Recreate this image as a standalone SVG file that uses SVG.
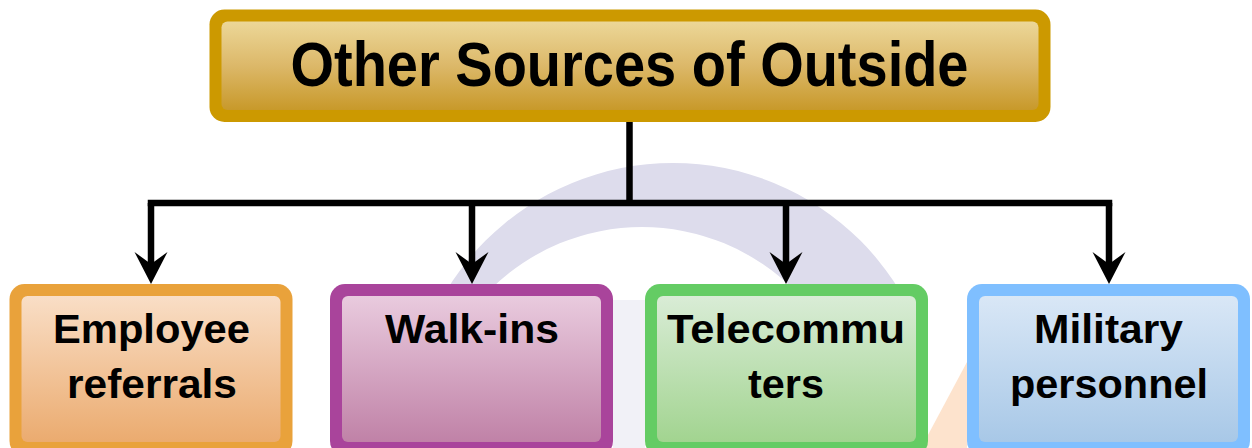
<svg xmlns="http://www.w3.org/2000/svg" width="1252" height="448" viewBox="0 0 1252 448">
  <style>
    .t { font-family: "Liberation Sans", Arial, sans-serif; font-weight: bold; fill: #000; text-anchor: middle; }
    .conn { fill: none; stroke: #000; stroke-width: 6.5; }
  </style>
  <defs>
    <linearGradient id="gTop" x1="0" y1="0" x2="0" y2="1">
      <stop offset="0" stop-color="#ecd798"/>
      <stop offset="0.5" stop-color="#dcb869"/>
      <stop offset="1" stop-color="#c8992a"/>
    </linearGradient>
    <linearGradient id="gOrange" x1="0" y1="0" x2="0" y2="1">
      <stop offset="0" stop-color="#f9dec6"/>
      <stop offset="1" stop-color="#ebab6f"/>
    </linearGradient>
    <linearGradient id="gPurple" x1="0" y1="0" x2="0" y2="1">
      <stop offset="0" stop-color="#e9cbde"/>
      <stop offset="1" stop-color="#c082a7"/>
    </linearGradient>
    <linearGradient id="gGreen" x1="0" y1="0" x2="0" y2="1">
      <stop offset="0" stop-color="#d9ecd6"/>
      <stop offset="1" stop-color="#a2d490"/>
    </linearGradient>
    <linearGradient id="gBlue" x1="0" y1="0" x2="0" y2="1">
      <stop offset="0" stop-color="#d9e7f6"/>
      <stop offset="1" stop-color="#a8c8e7"/>
    </linearGradient>
    <clipPath id="wmClip">
      <polygon points="0,0 1252,0 1252,290 910,290 910,448 0,448"/>
    </clipPath>
    <marker id="arrow" viewBox="0 -17 32 34" refX="12" refY="0" markerWidth="32" markerHeight="34" markerUnits="userSpaceOnUse" orient="auto">
      <path d="M0,-16.5 L32,0 L0,16.5 L12,0 Z" fill="#000"/>
    </marker>
  </defs>

  <rect width="1252" height="448" fill="#ffffff"/>

  <!-- faint watermark -->
  <g id="watermark">
    <path clip-path="url(#wmClip)" d="M408,428 A265,265 0 1,1 938,428 A265,265 0 1,1 408,428 Z M427,442 A215,215 0 1,0 857,442 A215,215 0 1,0 427,442 Z" fill="#dddcec" fill-rule="evenodd"/>
    <polygon points="613,300 645,300 645,448 613,448" fill="#f1f1f7"/>
    <polygon points="967,362 967,448 921,448" fill="#fde3cd"/>
  </g>

  <g id="connectors">
    <path class="conn" d="M629.5,122 V203"/>
    <path class="conn" d="M151,203 H1109" stroke-linecap="square"/>
    <path class="conn" d="M151,203 V264" marker-end="url(#arrow)"/>
    <path class="conn" d="M472,203 V264" marker-end="url(#arrow)"/>
    <path class="conn" d="M786,203 V264" marker-end="url(#arrow)"/>
    <path class="conn" d="M1109,203 V264" marker-end="url(#arrow)"/>
  </g>

  <g id="node-top">
    <rect x="209.5" y="9.5" width="841" height="112.5" rx="15" fill="#cc9900"/>
    <rect x="221.5" y="21.5" width="817" height="88.5" rx="6" fill="url(#gTop)"/>
    <text class="t" x="629.5" y="86" font-size="63" textLength="678" lengthAdjust="spacingAndGlyphs">Other Sources of Outside</text>
  </g>

  <g id="node-employee">
    <rect x="9.5" y="284" width="283" height="172" rx="15" fill="#e9a23b"/>
    <rect x="21.5" y="296" width="259" height="146" rx="6" fill="url(#gOrange)"/>
    <text class="t" x="151.5" y="343" font-size="40" textLength="197" lengthAdjust="spacingAndGlyphs">Employee</text>
    <text class="t" x="152" y="398" font-size="40" textLength="170" lengthAdjust="spacingAndGlyphs">referrals</text>
  </g>

  <g id="node-walkins">
    <rect x="330" y="284" width="283" height="172" rx="15" fill="#a9449b"/>
    <rect x="342" y="296" width="259" height="146" rx="6" fill="url(#gPurple)"/>
    <text class="t" x="472" y="343" font-size="40" textLength="174" lengthAdjust="spacingAndGlyphs">Walk-ins</text>
  </g>

  <g id="node-telecommuters">
    <rect x="645" y="284" width="283" height="172" rx="15" fill="#64cc64"/>
    <rect x="657" y="296" width="259" height="146" rx="6" fill="url(#gGreen)"/>
    <text class="t" x="786" y="343" font-size="40" textLength="238" lengthAdjust="spacingAndGlyphs">Telecommu</text>
    <text class="t" x="786" y="398" font-size="40" textLength="76" lengthAdjust="spacingAndGlyphs">ters</text>
  </g>

  <g id="node-military">
    <rect x="967" y="284" width="283" height="172" rx="15" fill="#7fbfff"/>
    <rect x="979" y="296" width="259" height="146" rx="6" fill="url(#gBlue)"/>
    <text class="t" x="1108.5" y="343" font-size="40" textLength="149" lengthAdjust="spacingAndGlyphs">Military</text>
    <text class="t" x="1109" y="398" font-size="40" textLength="198" lengthAdjust="spacingAndGlyphs">personnel</text>
  </g>
</svg>
